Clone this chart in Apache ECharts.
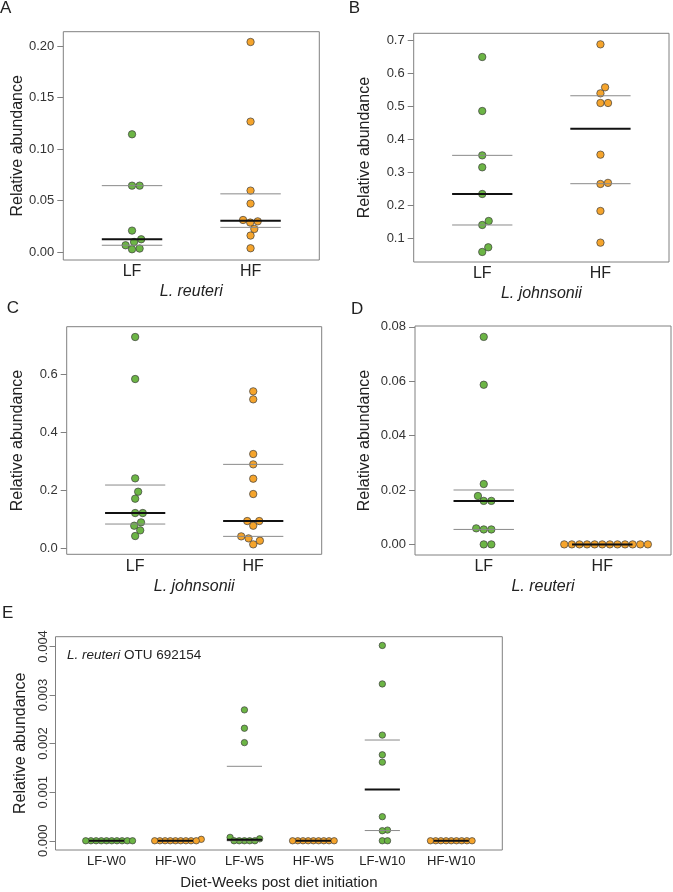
<!DOCTYPE html>
<html>
<head>
<meta charset="utf-8">
<script src="https://cdn.jsdelivr.net/npm/echarts@6/dist/echarts.min.js"></script>
<style>html,body{margin:0;padding:0;background:#fff}#c{width:673px;height:892px}</style>
</head>
<body>
<div id="c"></div>
<script>
// ---------- data ----------
const CATS_AD = ['LF', 'HF'];
const CATS_E = ['LF-W0', 'HF-W0', 'LF-W5', 'HF-W5', 'LF-W10', 'HF-W10'];

const A_LF = [0.1144, 0.0646, 0.0646, 0.0210, 0.0126, 0.0100, 0.0068, 0.0036, 0.0029];
const A_HF = [0.2039, 0.1267, 0.0598, 0.0472, 0.0313, 0.0300, 0.0288, 0.0226, 0.0162, 0.0039];
const B_LF = [0.6486, 0.4852, 0.3510, 0.3148, 0.2341, 0.1524, 0.1403, 0.0728, 0.0587];
const B_HF = [0.6869, 0.5568, 0.5386, 0.5094, 0.5094, 0.3531, 0.2677, 0.2644, 0.1827, 0.0869];
const C_LF = [0.7271, 0.5828, 0.2416, 0.1958, 0.1718, 0.1225, 0.1225, 0.0905, 0.0790, 0.0630, 0.0435];
const C_HF = [0.5405, 0.5130, 0.3252, 0.2897, 0.2405, 0.1878, 0.0950, 0.0950, 0.0790, 0.0424, 0.0355, 0.0275, 0.0149];
const D_LF = [0.0763, 0.0587, 0.0222, 0.0178, 0.0160, 0.0160, 0.0059, 0.0055, 0.0055, 0, 0];
const D_HF = [0, 0, 0, 0, 0, 0, 0, 0, 0, 0, 0, 0];
const E_LF_W0 = [0, 0, 0, 0, 0, 0, 0, 0, 0, 0];
const E_HF_W0 = [0.00003, 0, 0, 0, 0, 0, 0, 0, 0, 0];
const E_LF_W5 = [0.002694, 0.002316, 0.00202, 0.00007, 0.00004, 0, 0, 0, 0, 0];
const E_HF_W5 = [0, 0, 0, 0, 0, 0, 0, 0, 0];
const E_LF_W10 = [0.00402, 0.003228, 0.002175, 0.001769, 0.001618, 0.000496, 0.00022, 0.000207, 0, 0];
const E_HF_W10 = [0, 0, 0, 0, 0, 0, 0, 0, 0];

const A_TICKS = [0, 0.05, 0.10, 0.15, 0.20];
const B_TICKS = [0.1, 0.2, 0.3, 0.4, 0.5, 0.6, 0.7];
const C_TICKS = [0, 0.2, 0.4, 0.6];
const D_TICKS = [0, 0.02, 0.04, 0.06, 0.08];
const E_TICKS = [0, 0.001, 0.002, 0.003, 0.004];

// ---------- styles / layout ----------
const GREEN = '#6cb545';
const ORANGE = '#f5a42c';
const FONT = '"Liberation Sans", Arial, Helvetica, sans-serif';

const panels = [
  { letter: 'A', lx: 0, ly: 8, grid: { left: 63.3, top: 31.7, width: 256, height: 228.3 },
    x: [0.42, 2.58], y: [-0.0075, 0.2139], ticks: A_TICKS, dec: 2, cats: CATS_AD,
    groups: [A_LF, A_HF], species: 'L. reuteri', nameGap: 37, size: 7.4, spacing: 7.6,
    catFont: 16, catMargin: 4, spGap: 24, spItalic: true, spFont: 16, rotate: 0, lblMargin: 9 },
  { letter: 'B', lx: 348.7, ly: 8, grid: { left: 413.7, top: 33.3, width: 255.3, height: 228.7 },
    x: [0.42, 2.58], y: [0.0283, 0.7203], ticks: B_TICKS, dec: 1, cats: CATS_AD,
    groups: [B_LF, B_HF], species: 'L. johnsonii', nameGap: 41, size: 7.4, spacing: 7.6,
    catFont: 16, catMargin: 4, spGap: 24, spItalic: true, spFont: 16, rotate: 0, lblMargin: 9 },
  { letter: 'C', lx: 6.7, ly: 308.3, grid: { left: 66.7, top: 326.7, width: 255, height: 227.6 },
    x: [0.42, 2.58], y: [-0.0192, 0.7625], ticks: C_TICKS, dec: 1, cats: CATS_AD,
    groups: [C_LF, C_HF], species: 'L. johnsonii', nameGap: 41, size: 7.4, spacing: 7.6,
    catFont: 16, catMargin: 4, spGap: 24, spItalic: true, spFont: 16, rotate: 0, lblMargin: 9 },
  { letter: 'D', lx: 351, ly: 309, grid: { left: 415, top: 326, width: 256, height: 229 },
    x: [0.42, 2.58], y: [-0.0039, 0.0803], ticks: D_TICKS, dec: 2, cats: CATS_AD,
    groups: [D_LF, D_HF], species: 'L. reuteri', nameGap: 42, size: 7.4, spacing: 7.6,
    catFont: 16, catMargin: 4, spGap: 24, spItalic: true, spFont: 16, rotate: 0, lblMargin: 9 },
  { letter: 'E', lx: 2, ly: 613, grid: { left: 55.5, top: 636.7, width: 446.8, height: 213.3 },
    x: [0.26, 6.74], y: [-0.00019, 0.0042], ticks: E_TICKS, dec: 3, cats: CATS_E,
    groups: [E_LF_W0, E_HF_W0, E_LF_W5, E_HF_W5, E_LF_W10, E_HF_W10],
    species: 'Diet-Weeks post diet initiation', nameGap: 23, size: 6.4, spacing: 5.2,
    catFont: 13, catMargin: 4.5, spGap: 25, spItalic: false, spFont: 15, rotate: 90, lblMargin: 6 }
];

// ---------- helpers ----------
function quantile7(vals, p) {
  const s = vals.slice().sort((a, b) => a - b);
  const h = (s.length - 1) * p;
  const lo = Math.floor(h), hi = Math.ceil(h);
  return s[lo] + (h - lo) * (s[hi] - s[lo]);
}
// beeswarm "swarm" placement (ascending priority), offsets in pixels
function swarm(values, pxPerUnit, d) {
  const idx = values.map((v, i) => i).sort((a, b) => values[a] - values[b] || a - b);
  const placed = [];
  const out = new Array(values.length);
  for (const i of idx) {
    const y = values[i] * pxPerUnit;
    const near = [];
    for (const p of placed) {
      const dy = Math.abs(y - p.y);
      if (dy < d) near.push({ x: p.x, w: Math.sqrt(d * d - dy * dy) });
    }
    const cands = [0].concat(near.map(n => n.x + n.w), near.map(n => n.x - n.w));
    const valid = cands.filter(c => near.every(n => Math.abs(c - n.x) >= n.w - 1e-7));
    valid.sort((a, b) => Math.abs(a) - Math.abs(b));
    out[i] = valid[0];
    placed.push({ y, x: valid[0] });
  }
  return out;
}

// ---------- build option ----------
const grids = [], xAxes = [], yAxes = [], series = [], graphics = [];

panels.forEach((P, pi) => {
  grids.push(Object.assign({ show: true, borderColor: '#808080', borderWidth: 1, containLabel: false }, P.grid));
  const n = P.cats.length;
  const gx = P.cats.map((c, i) => i + 1);
  xAxes.push({
    type: 'value', gridIndex: pi, min: P.x[0], max: P.x[1],
    axisLine: { show: false }, axisTick: { show: false }, splitLine: { show: false },
    axisLabel: { customValues: gx, formatter: v => P.cats[Math.round(v) - 1], fontSize: P.catFont,
                 color: '#222', margin: P.catMargin, fontFamily: FONT },
    name: P.species, nameLocation: 'middle', nameGap: P.spGap,
    nameTextStyle: { fontSize: P.spFont, fontStyle: P.spItalic ? 'italic' : 'normal', color: '#222', fontFamily: FONT }
  });
  yAxes.push({
    type: 'value', gridIndex: pi, min: P.y[0], max: P.y[1],
    axisLine: { show: false }, splitLine: { show: false },
    axisTick: { show: true, length: 6, customValues: P.ticks, lineStyle: { color: '#808080', width: 1 } },
    axisLabel: { customValues: P.ticks, formatter: v => Number(v).toFixed(P.dec), fontSize: 13,
                 color: '#333', margin: P.lblMargin, rotate: P.rotate, fontFamily: FONT },
    name: 'Relative abundance', nameLocation: 'middle', nameGap: P.nameGap,
    nameTextStyle: { fontSize: 16, color: '#222', fontFamily: FONT }
  });
  const pxPerUnit = P.grid.height / (P.y[1] - P.y[0]);
  const grayData = [], blackData = [];
  P.groups.forEach((vals, gi) => {
    const color = gi % 2 === 0 ? GREEN : ORANGE;
    const offs = swarm(vals, pxPerUnit, P.spacing);
    series.push({
      type: 'scatter', xAxisIndex: pi, yAxisIndex: pi, symbol: 'circle', symbolSize: P.size,
      itemStyle: { color: color, borderColor: '#3d3d3d', borderWidth: 0.7, opacity: 1 },
      data: vals.map((v, i) => ({ value: [gi + 1, v], symbolOffset: [offs[i], 0] })),
      z: 2, silent: true, animation: false
    });
    grayData.push([gi + 1, quantile7(vals, 0.25)], [gi + 1, quantile7(vals, 0.75)]);
    blackData.push([gi + 1, quantile7(vals, 0.5)]);
  });
  const mk = (data, stroke, lw, z) => ({
    type: 'custom', xAxisIndex: pi, yAxisIndex: pi, z: z, silent: true, animation: false,
    data: data,
    renderItem: (params, api) => {
      const x = api.value(0), v = api.value(1);
      const p1 = api.coord([x - 0.255, v]), p2 = api.coord([x + 0.255, v]);
      return { type: 'line', shape: { x1: p1[0], y1: p1[1], x2: p2[0], y2: p2[1] },
               style: { stroke: stroke, lineWidth: lw } };
    }
  });
  series.push(mk(grayData, '#8a8a8a', 1, 3));
  series.push(mk(blackData, '#111111', 2, 4));
  graphics.push({ type: 'text', x: P.lx, y: P.ly, silent: true,
    style: { text: P.letter, fill: '#222', font: '17px ' + FONT, verticalAlign: 'middle', align: 'left' } });
});

const option = {
  backgroundColor: '#ffffff',
  animation: false,
  textStyle: { fontFamily: FONT },
  title: [{
    text: '{i|L. reuteri} OTU 692154', left: 67, top: 648, padding: 0,
    textStyle: { fontSize: 13.5, fontWeight: 'normal', color: '#222', fontFamily: FONT,
      rich: { i: { fontStyle: 'italic', fontSize: 13.5, color: '#222', fontFamily: FONT } } }
  }],
  grid: grids, xAxis: xAxes, yAxis: yAxes, series: series, graphic: graphics
};

const chart = echarts.init(document.getElementById('c'), null, { renderer: 'canvas' });
chart.setOption(option);
</script>
</body>
</html>
